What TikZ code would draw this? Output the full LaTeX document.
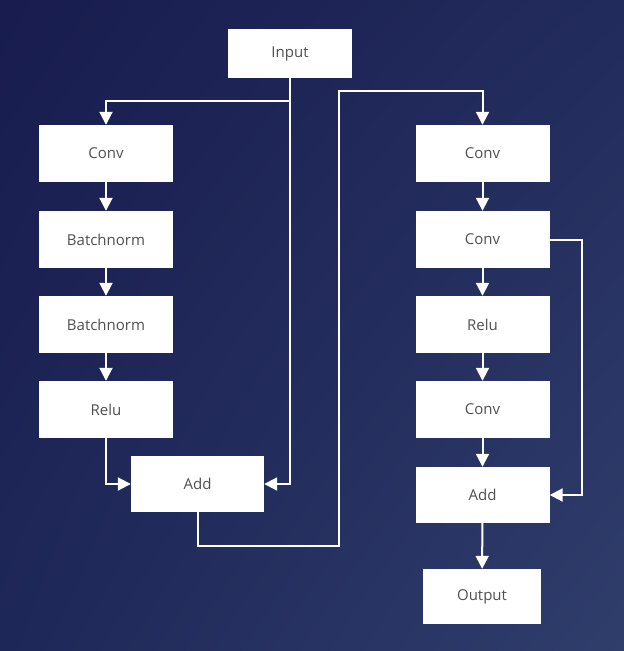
\documentclass[tikz,border=0pt]{standalone}
\usepackage{fontspec}
\setmainfont{Open Sans}
\usetikzlibrary{arrows.meta,shadings}
\definecolor{bgtl}{RGB}{24,28,78}
\definecolor{bgtr}{RGB}{34,44,92}
\definecolor{bgbl}{RGB}{30,40,88}
\definecolor{bgbr}{RGB}{48,62,108}
\definecolor{txt}{RGB}{80,80,80}
\begin{document}
\begin{tikzpicture}[x=1pt,y=-1pt,
  blk/.style={draw=none,fill=white,minimum width=134pt,minimum height=57pt,inner sep=0pt,
    font=\fontsize{15}{18}\selectfont,text=txt},
  conn/.style={draw=white,line width=2pt},
  arr/.style={conn,-{Triangle[length=13pt,width=13pt]}}]
\shade[upper left=bgtl,upper right=bgtr,lower left=bgbl,lower right=bgbr] (0,0) rectangle (624,651);
\useasboundingbox (0,0) rectangle (624,651);
% nodes
\node[blk,minimum width=124pt,minimum height=49pt] (in) at (290,53.5) {Input};
\node[blk] (l1) at (106,153.5) {Conv};
\node[blk] (l2) at (106,239.5) {Batchnorm};
\node[blk] (l3) at (106,324.5) {Batchnorm};
\node[blk] (l4) at (106,409.5) {Relu};
\node[blk,minimum width=133pt,minimum height=56pt] (ladd) at (197.5,484) {Add};
\node[blk] (r1) at (482.5,153.5) {Conv};
\node[blk] (r2) at (482.5,239.5) {Conv};
\node[blk] (r3) at (482.5,324.5) {Relu};
\node[blk] (r4) at (482.5,409.5) {Conv};
\node[blk,minimum height=56pt] (radd) at (482.5,495) {Add};
\node[blk,minimum width=118pt,minimum height=55pt] (out) at (482,596.5) {Output};
% coordinates
\coordinate (b1) at (290,101);
\coordinate (b2) at (106,101);
\coordinate (c1) at (197.5,546);
\coordinate (c2) at (339,546);
\coordinate (c3) at (339,91);
\coordinate (c4) at (482.5,91);
\coordinate (s1) at (582,239.5);
\coordinate (s2) at (582,495);
% connectors
\draw[arr] (in.south) |- (ladd.east);
\draw[arr] (b1) -- (b2) -- (l1.north);
\draw[arr] (l1) -- (l2);
\draw[arr] (l2) -- (l3);
\draw[arr] (l3) -- (l4);
\draw[arr] (l4.south) |- (ladd.west);
\draw[arr] (ladd.south) -- (c1) -- (c2) -- (c3) -- (c4) -- (r1.north);
\draw[arr] (r1) -- (r2);
\draw[arr] (r2) -- (r3);
\draw[arr] (r3) -- (r4);
\draw[arr] (r4) -- (radd);
\draw[arr] (r2.east) -- (s1) -- (s2) -- (radd.east);
\draw[arr] (radd) -- (out);
\end{tikzpicture}
\end{document}
